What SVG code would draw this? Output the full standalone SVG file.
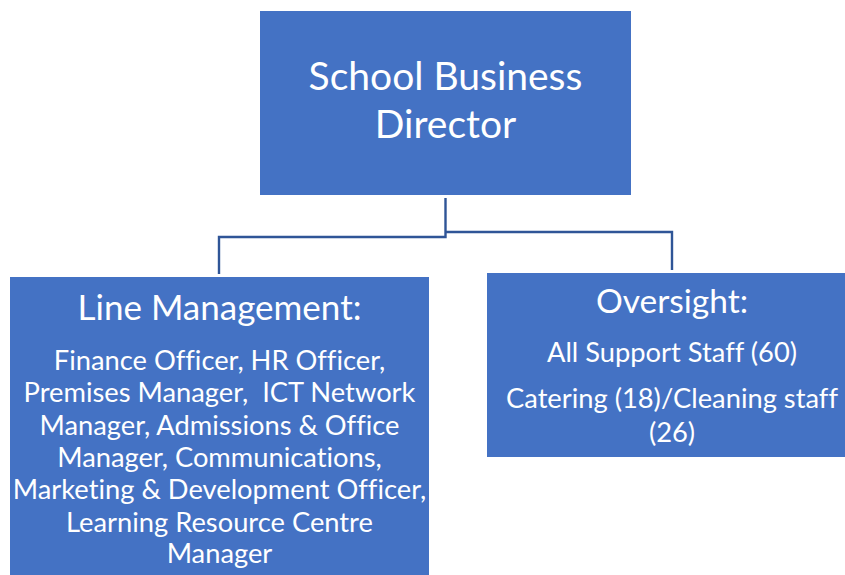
<svg xmlns="http://www.w3.org/2000/svg" width="845" height="575" viewBox="0 0 845 575">
  <style>
    .box { fill: #4472C4; }
    .link { fill: none; stroke: #2F5597; stroke-width: 2.4; }
    text { font-family: Lato, "Open Sans", "Liberation Sans", sans-serif; fill: #FFFFFF; text-anchor: middle; font-variant-ligatures: none; }
    .t1 { font-size: 39px; }
    .t2 { font-size: 33.5px; }
    .t3 { font-size: 27.3px; }
  </style>
  <rect width="845" height="575" fill="#FFFFFF"/>

  <g id="connectors">
    <polyline class="link" points="445.5,198 445.5,237 219,237 219,274"/>
    <polyline class="link" points="445.5,232 672,232 672,270"/>
  </g>

  <g id="director">
    <rect class="box" x="260" y="11" width="371" height="184"/>
    <text class="t1" x="445.5" y="90">School Business</text>
    <text class="t1" x="445.5" y="138">Director</text>
  </g>

  <g id="line-management">
    <rect class="box" x="10" y="277" width="419" height="300"/>
    <text class="t2" x="219.5" y="320" style="font-size:35px">Line Management:</text>
    <text class="t3" x="219.5" y="370">Finance Officer, HR Officer,</text>
    <text class="t3" x="219.5" y="402" xml:space="preserve">Premises Manager,  ICT Network</text>
    <text class="t3" x="219.5" y="435">Manager, Admissions &amp; Office</text>
    <text class="t3" x="219.5" y="467">Manager, Communications,</text>
    <text class="t3" x="219.5" y="499">Marketing &amp; Development Officer,</text>
    <text class="t3" x="219.5" y="532">Learning Resource Centre</text>
    <text class="t3" x="219.5" y="563">Manager</text>
  </g>

  <g id="oversight">
    <rect class="box" x="487" y="273" width="370" height="184"/>
    <text class="t2" x="672" y="313">Oversight:</text>
    <text class="t3" x="672" y="362">All Support Staff (60)</text>
    <text class="t3" x="672" y="408">Catering (18)/Cleaning staff</text>
    <text class="t3" x="672" y="442">(26)</text>
  </g>
</svg>
